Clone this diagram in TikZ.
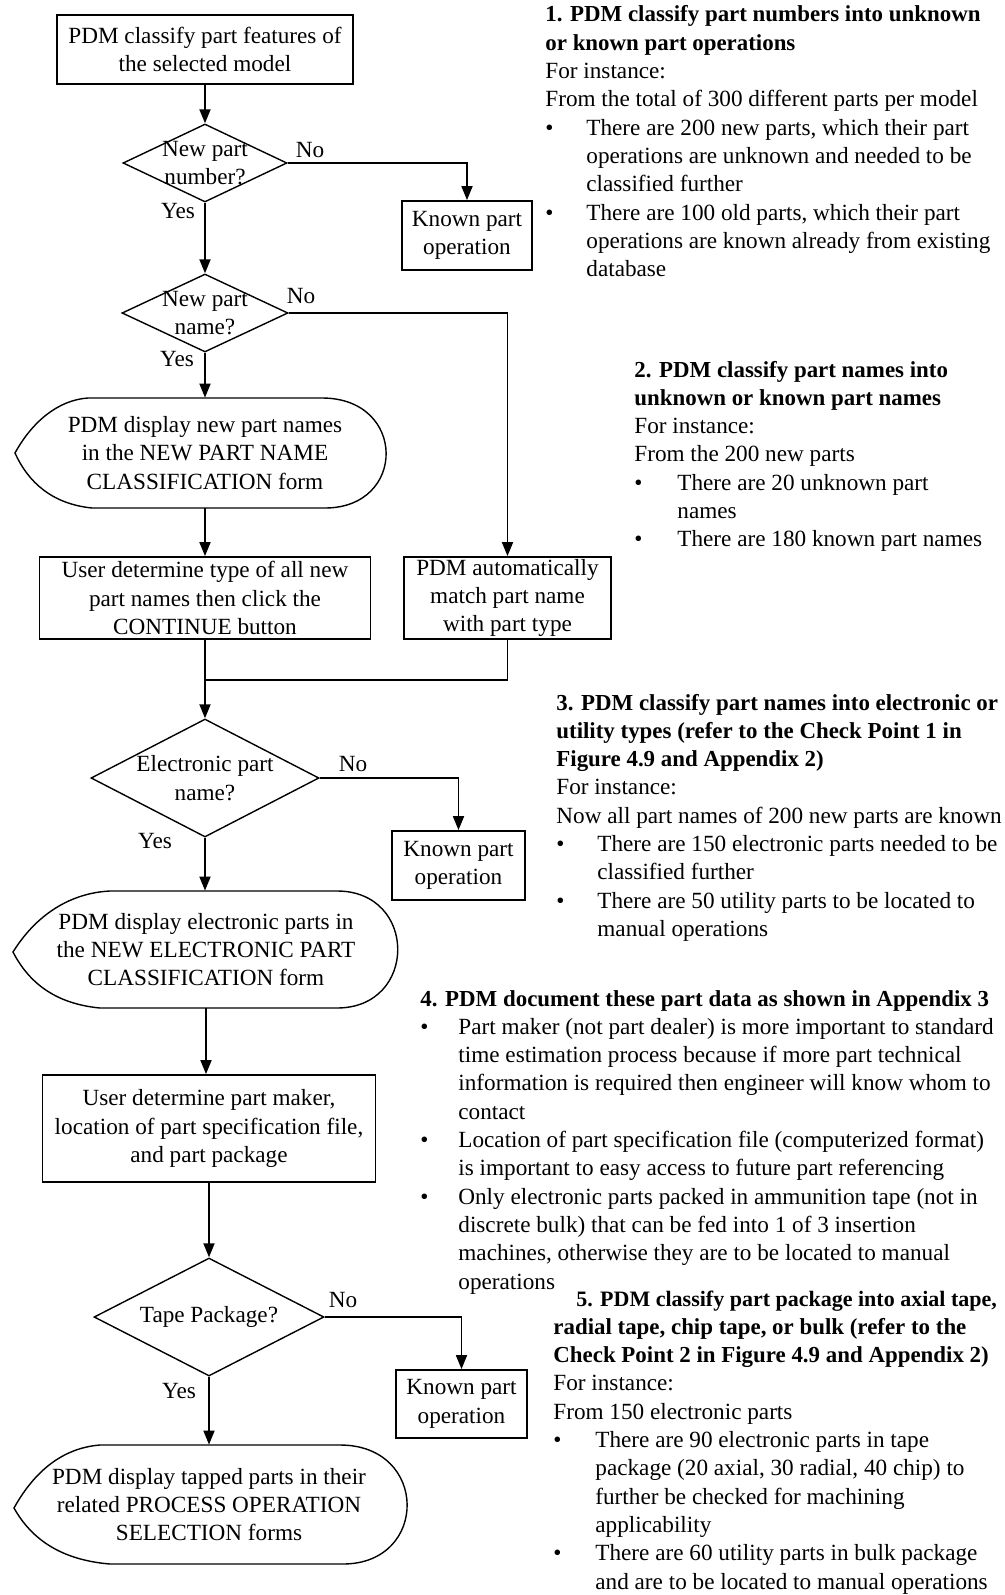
\documentclass[tikz,border=0pt]{standalone}
\usepackage{fontspec}
\setmainfont{Liberation Serif}
\usetikzlibrary{arrows.meta,shapes.geometric}

% note blocks: heading line, plain line, bulleted line, indented continuation line
\newlength\bulind
\newcommand\hd[1]{\hbox{\fontsize{11.45pt}{14.15pt}\selectfont\bfseries #1}}
\newcommand\pl[1]{\hbox{#1}}
\newcommand\bl[1]{\hbox{\hbox to \bulind{\textbullet\hfil}#1}}
\newcommand\il[1]{\hbox{\hskip\bulind #1}}
\newcommand\noteblock[2]{\setlength\bulind{#1}\vtop{\baselineskip=14.15pt #2}}

\begin{document}
\begin{tikzpicture}[x=0.5pt,y=-0.5pt,
  every node/.style={font=\fontsize{11.6pt}{14.15pt}\selectfont, inner sep=0pt},
  procbox/.style={draw, line width=0.9pt, align=center},
  decision/.style={draw, diamond, line width=0.7pt, inner sep=0pt},
  dispshape/.style={line width=0.7pt},
  flow/.style={line width=0.9pt, -{Triangle[length=7pt,width=5.5pt]}},
  joinline/.style={line width=0.9pt}]
\useasboundingbox (0,0) rectangle (1005,1595);

% ---------- process boxes ----------
\node[procbox, minimum width=148pt, minimum height=34.5pt] (top) at (205,49.5)
  {PDM classify part features of\\the selected model};
\node[procbox, minimum width=65pt, minimum height=34.5pt] (k1) at (467,235.5)
  {Known part\\operation};
\node[procbox, minimum width=165.5pt, minimum height=41pt] (u1) at (205,598)
  {User determine type of all new\\part names then click the\\CONTINUE button};
\node[procbox, minimum width=103.5pt, minimum height=41pt] (auto) at (507.5,598)
  {PDM automatically\\match part name\\with part type};
\node[procbox, minimum width=66.5pt, minimum height=34.5pt] (k2) at (458.5,865.5)
  {Known part\\operation};
\node[procbox, minimum width=166.5pt, minimum height=53.5pt] (b4) at (209,1128.5)
  {User determine part maker,\\location of part specification file,\\and part package};
\node[procbox, minimum width=65.5pt, minimum height=34pt] (k3) at (461.5,1404)
  {Known part\\operation};

% ---------- decisions ----------
\node[decision, minimum width=82pt, minimum height=39pt] (d1) at (205,163) {};
\node[align=center] (d1t) at (d1) {New part\\number?};
\node[decision, minimum width=83pt, minimum height=39pt] (d2) at (205,313) {};
\node[align=center] (d2t) at (d2) {New part\\name?};
\node[decision, minimum width=114pt, minimum height=59pt] (d3) at (205,778) {};
\node[align=center] (d3t) at (d3) {Electronic part\\name?};
\node[decision, minimum width=115pt, minimum height=59pt] (d5) at (209,1317) {};
\node (d5t) at (d5) {Tape Package?};

% ---------- display forms ----------
\node[align=center, minimum height=55pt] (e1) at (205,453)
  {PDM display new part names\\in the NEW PART NAME\\CLASSIFICATION form};
\draw[dispshape] (88,398) -- (322,398) .. controls (407,398) and (407,508) .. (325,508)
  -- (92,508) .. controls (52,504) and (28,482) .. (15,453)
  .. controls (32,422) and (58,400) .. (88,398);

\node[align=center, minimum height=58.5pt] (e2) at (206,949.5)
  {PDM display electronic parts in\\the NEW ELECTRONIC PART\\CLASSIFICATION form};
\draw[dispshape] (110,891) -- (337,891) .. controls (418,891) and (418,1008) .. (337,1008)
  -- (100,1008) .. controls (58,1004) and (30,985) .. (13,952)
  .. controls (36,915) and (70,893) .. (110,891);

\node[align=center, minimum height=59.5pt] (e3) at (209,1504.5)
  {PDM display tapped parts in their\\related PROCESS OPERATION\\SELECTION forms};
\draw[dispshape] (100,1445) -- (340,1445) .. controls (429,1445) and (429,1564) .. (343,1564)
  -- (110,1564) .. controls (62,1560) and (32,1540) .. (14,1508)
  .. controls (34,1472) and (62,1448) .. (100,1445);

% ---------- branch labels ----------
\node (no1) at (310,150) {No};
\node (yes1) at (178,211) {Yes};
\node (no2) at (301,296) {No};
\node (yes2) at (177,359) {Yes};
\node (no3) at (353,764) {No};
\node (yes3) at (155,841) {Yes};
\node (no5) at (343,1300) {No};
\node (yes5) at (179,1391) {Yes};

% ---------- connectors ----------
\coordinate (m1) at (205,680);
\draw[flow] (top) -- (d1);
\draw[flow] (d1.east) -| (k1.north);
\draw[flow] (d1) -- (d2);
\draw[flow] (d2.east) -| (auto.north);
\draw[flow] (d2) -- (e1);
\draw[flow] (e1.south) -- (e1.south |- u1.north);
\draw[flow] (u1.south) -- (u1.south |- d3.north);
\draw[joinline] (auto.south) |- (m1);
\draw[flow] (d3.east) -| (k2.north);
\draw[flow] (d3.south) -- (d3.south |- e2.north);
\draw[flow] (e2.south) -- (e2.south |- b4.north);
\draw[flow] (b4) -- (d5);
\draw[flow] (d5.east) -| (k3.north);
\draw[flow] (d5) -- (e3);

% ---------- explanatory notes ----------
\node[anchor=base west] (note1) at (545,22) {\noteblock{20.5pt}{%
\hd{1. PDM classify part numbers into unknown}%
\hd{or known part operations}%
\pl{For instance:}%
\pl{From the total of 300 different parts per model}%
\bl{There are 200 new parts, which their part}%
\il{operations are unknown and needed to be}%
\il{classified further}%
\bl{There are 100 old parts, which their part}%
\il{operations are known already from existing}%
\il{database}}};

\node[anchor=base west] (note2) at (634,377) {\noteblock{21.5pt}{%
\hd{2. PDM classify part names into}%
\hd{unknown or known part names}%
\pl{For instance:}%
\pl{From the 200 new parts}%
\bl{There are 20 unknown part}%
\il{names}%
\bl{There are 180 known part names}}};

\node[anchor=base west] (note3) at (556,710) {\noteblock{20.5pt}{%
\hd{3. PDM classify part names into electronic or}%
\hd{utility types (refer to the Check Point 1 in}%
\hd{Figure 4.9 and Appendix 2)}%
\pl{For instance:}%
\pl{Now all part names of 200 new parts are known}%
\bl{There are 150 electronic parts needed to be}%
\il{classified further}%
\bl{There are 50 utility parts to be located to}%
\il{manual operations}}};

\node[anchor=base west] (note4) at (420,1006) {\noteblock{19pt}{%
\hd{4. PDM document these part data as shown in Appendix 3}%
\bl{Part maker (not part dealer) is more important to standard}%
\il{time estimation process because if more part technical}%
\il{information is required then engineer will know whom to}%
\il{contact}%
\bl{Location of part specification file (computerized format)}%
\il{is important to easy access to future part referencing}%
\bl{Only electronic parts packed in ammunition tape (not in}%
\il{discrete bulk) that can be fed into 1 of 3 insertion}%
\il{machines, otherwise they are to be located to manual}%
\il{operations}}};

\node[anchor=base west] (note5) at (553,1306) {\noteblock{21pt}{%
\pl{\hskip11.5pt\fontsize{11pt}{14.15pt}\selectfont\bfseries 5. PDM classify part package into axial tape,}%
\hd{radial tape, chip tape, or bulk (refer to the}%
\hd{Check Point 2 in Figure 4.9 and Appendix 2)}%
\pl{For instance:}%
\pl{From 150 electronic parts}%
\bl{There are 90 electronic parts in tape}%
\il{package (20 axial, 30 radial, 40 chip) to}%
\il{further be checked for machining}%
\il{applicability}%
\bl{There are 60 utility parts in bulk package}%
\il{and are to be located to manual operations}}};
\end{tikzpicture}
\end{document}
